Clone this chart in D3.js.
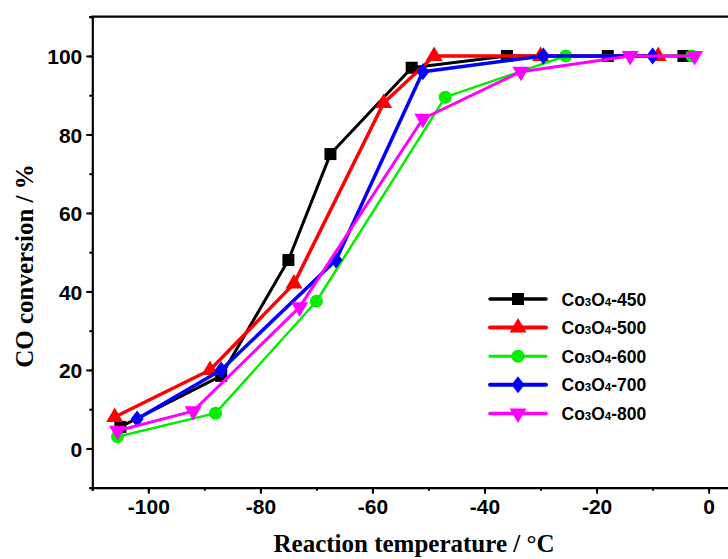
<!DOCTYPE html>
<html>
<head>
<meta charset="utf-8">
<script src="https://d3js.org/d3.v7.min.js"></script>
<style>
  body { margin: 0; background: #fff; }
</style>
</head>
<body>
<script>
// CO conversion (%) vs reaction temperature (°C)
var names = ['450', '500', '600', '700', '800'];
var colors = ['#000000', '#ff0000', '#00ee00', '#0000ff', '#ff00ff'];
var shapes = ['square', 'triangle', 'circle', 'diamond', 'down'];
var widths = [3, 3.5, 2.5, 3.5, 3];

var temp450 = [-105, -87, -75, -67.5, -53, -36, -18, -4.5];
var conv450 = [5.5, 18.5, 48, 75, 97, 100, 100, 100];
var temp500 = [-106, -89, -74, -58, -49, -30, -9];
var conv500 = [8, 20, 42, 88, 100, 100, 100];
var temp600 = [-105.5, -88, -70, -47, -25.5, -3];
var conv600 = [3, 9, 37.5, 89.5, 100, 100];
var temp700 = [-102, -87, -66.5, -51, -29.5, -10];
var conv700 = [7.5, 20, 48, 96, 100, 100];
var temp800 = [-105.5, -92, -73, -51, -33.5, -14, -2.5];
var conv800 = [4.5, 9.5, 36, 84, 96, 100, 100];

var xTicks = [-100, -80, -60, -40, -20, 0];
var yTicks = [0, 20, 40, 60, 80, 100];

var temps = [temp450, temp500, temp600, temp700, temp800];
var convs = [conv450, conv500, conv600, conv700, conv800];
var series = names.map(function(n, i) {
  return { name: n, color: colors[i], shape: shapes[i], w: widths[i],
    pts: temps[i].map(function(t, j) { return { t: t, c: convs[i][j] }; }) };
});

var W = 728, H = 559;
var x = d3.scaleLinear().domain([-110, 10]).range([92.3, 92.3 + 120 * 5.603]);
var y = d3.scaleLinear().domain([-10, 110]).range([487.7, 16.7]);

var svg = d3.select('body').append('svg').attr('width', W).attr('height', H);

function marker(shape) {
  if (shape == 'square') return 'M-6,-6H6V6H-6Z';
  if (shape == 'triangle') return 'M0,-9.5L8.5,5L-8.5,5Z';
  if (shape == 'down') return 'M0,9.5L8.5,-5L-8.5,-5Z';
  if (shape == 'diamond') return 'M0,-8.5L6.5,0L0,8.5L-6.5,0Z';
  return d3.symbol().type(d3.symbolCircle).size(Math.PI * 6.5 * 6.5)();
}

// axes: minor ticks every 10, labelled major ticks every 20
var tickFont = 'bold 21px "Liberation Sans", Arial, sans-serif';
var fmt = function(d) { return String(d); };

var gx = svg.append('g').attr('transform', 'translate(0,' + y(-10) + ')');
gx.call(d3.axisBottom(x).tickValues(d3.range(-110, 11, 10)).tickSize(3).tickFormat(''));
var gx2 = gx.append('g').call(d3.axisBottom(x).tickValues(xTicks).tickSize(6).tickPadding(5)
  .tickFormat(fmt));
gx2.select('.domain').remove();
gx.selectAll('text').attr('fill', '#000').style('font', tickFont);

var gy = svg.append('g').attr('transform', 'translate(' + x(-110) + ',0)');
gy.call(d3.axisLeft(y).tickValues(d3.range(-10, 111, 10)).tickSize(3).tickFormat(''));
var gy2 = gy.append('g').call(d3.axisLeft(y).tickValues(yTicks).tickSize(6).tickPadding(4)
  .tickFormat(fmt));
gy2.select('.domain').remove();
gy.selectAll('text').attr('fill', '#000').style('font', tickFont).attr('dy', '0.36em');

svg.selectAll('.domain').attr('stroke', '#000').attr('stroke-width', 2.2);
svg.selectAll('.tick line').attr('stroke', '#000').attr('stroke-width', 2);

// top frame line
svg.append('line').attr('x1', x(-110) - 1).attr('x2', x(10)).attr('y1', y(110)).attr('y2', y(110))
  .attr('stroke', '#000').attr('stroke-width', 2.2);

// series
var line = d3.line().x(function(d) { return x(d.t); }).y(function(d) { return y(d.c); });
series.forEach(function(s) {
  var g = svg.append('g');
  g.append('path').datum(s.pts).attr('d', line).attr('fill', 'none')
    .attr('stroke', s.color).attr('stroke-width', s.w).attr('stroke-linejoin', 'round');
  g.selectAll('path.m').data(s.pts).enter().append('path').attr('class', 'm')
    .attr('d', marker(s.shape))
    .attr('transform', function(d) { return 'translate(' + x(d.t) + ',' + y(d.c) + ')'; })
    .attr('fill', s.color);
});

// legend
var leg = svg.append('g');
series.forEach(function(s, i) {
  var yy = 299 + i * 28.6;
  leg.append('line').attr('x1', 490).attr('x2', 546).attr('y1', yy).attr('y2', yy)
    .attr('stroke', s.color).attr('stroke-width', s.w + 0.5).attr('stroke-linecap', 'round');
  leg.append('path').attr('d', marker(s.shape)).attr('fill', s.color)
    .attr('transform', 'translate(518,' + yy + ')');
  var t = leg.append('text').attr('x', 561.5).attr('y', yy + 6.5)
    .style('font', 'bold 17.5px "Liberation Sans", Arial, sans-serif').attr('fill', '#000');
  t.append('tspan').text('Co');
  t.append('tspan').text('3').style('font-size', '11.5px');
  t.append('tspan').text('O');
  t.append('tspan').text('4').style('font-size', '11.5px');
  t.append('tspan').text('-' + s.name);
});

// axis titles
var titleFont = 'bold 25px "Liberation Serif", "Times New Roman", serif';
svg.append('text').attr('x', 414).attr('y', 552).attr('text-anchor', 'middle')
  .style('font', titleFont).attr('fill', '#000').text('Reaction temperature / °C');
svg.append('text').attr('transform', 'translate(33,266) rotate(-90)').attr('text-anchor', 'middle')
  .style('font', titleFont).attr('fill', '#000').text('CO conversion / %');
</script>
</body>
</html>
